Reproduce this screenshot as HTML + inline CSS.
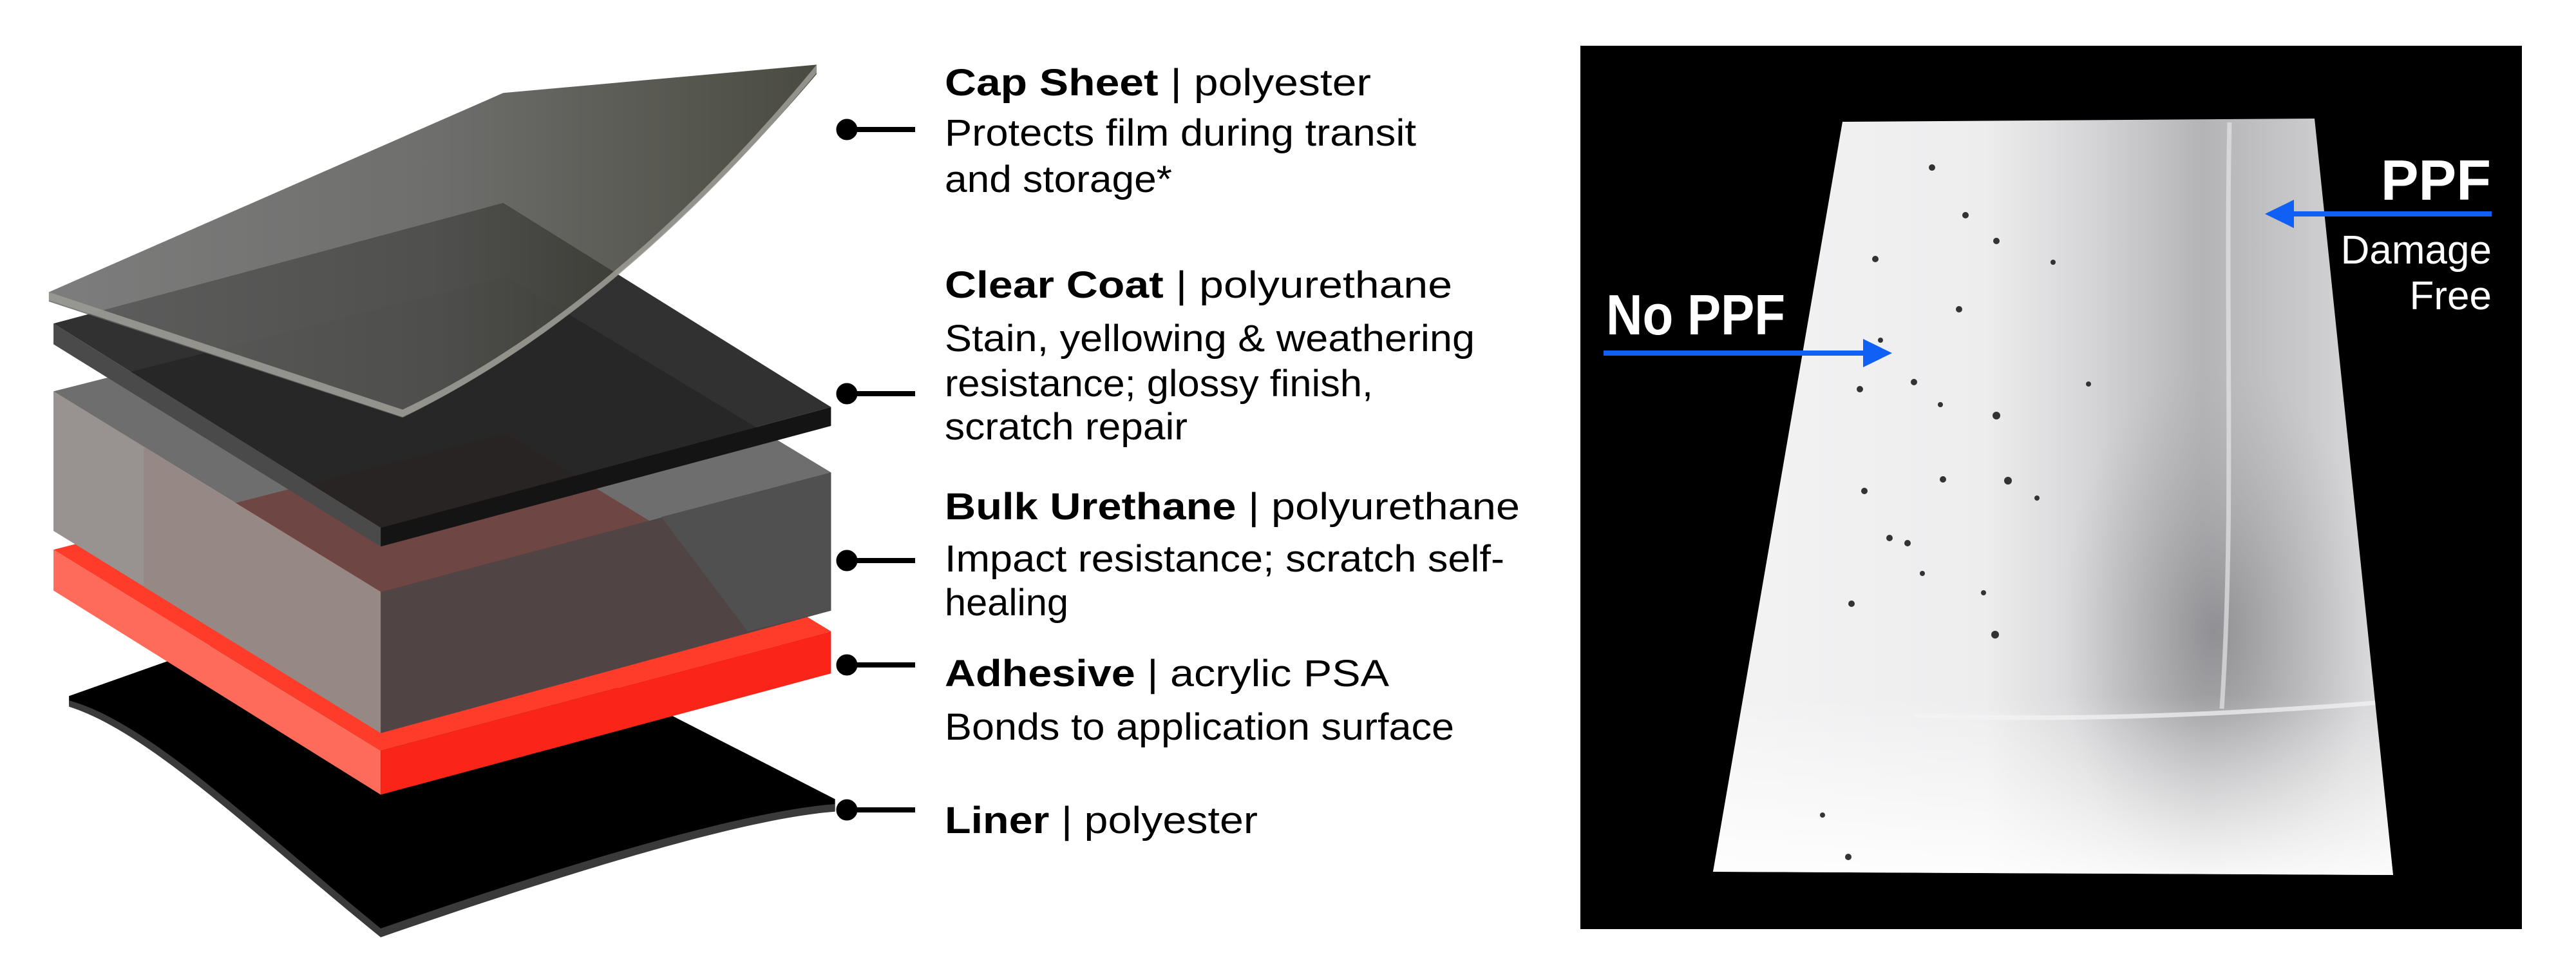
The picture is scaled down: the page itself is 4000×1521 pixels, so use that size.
<!DOCTYPE html>
<html><head><meta charset="utf-8"><style>
html,body{margin:0;padding:0;background:#fff;}
svg{display:block;}
text{font-family:"Liberation Sans",sans-serif;}
</style></head><body>
<svg width="4000" height="1521" viewBox="0 0 4000 1521" xmlns="http://www.w3.org/2000/svg">
<defs>
<linearGradient id="capg" x1="0" y1="0" x2="1" y2="0">
<stop offset="0" stop-color="#666"/><stop offset="0.5" stop-color="#555553"/><stop offset="1" stop-color="#2a2b1e"/>
</linearGradient>
<linearGradient id="sheeth" x1="2660" y1="0" x2="3716" y2="0" gradientUnits="userSpaceOnUse">
<stop offset="0" stop-color="#f3f3f4"/><stop offset="0.4" stop-color="#ededee"/><stop offset="0.55" stop-color="#d6d6d8"/>
<stop offset="0.72" stop-color="#b4b4b7"/><stop offset="0.85" stop-color="#c6c6c8"/><stop offset="1" stop-color="#dedee0"/>
</linearGradient>
<radialGradient id="band" cx="3440" cy="980" r="300" gradientUnits="userSpaceOnUse" gradientTransform="translate(3440 980) scale(0.8 1.4) translate(-3440 -980)">
<stop offset="0" stop-color="#8c8c90" stop-opacity="0.9"/><stop offset="1" stop-color="#b0b0b3" stop-opacity="0"/>
</radialGradient>
<linearGradient id="fadeb" x1="0" y1="1080" x2="0" y2="1358" gradientUnits="userSpaceOnUse">
<stop offset="0" stop-color="#fff" stop-opacity="0"/><stop offset="1" stop-color="#fff" stop-opacity="0.9"/>
</linearGradient>
</defs>

<g transform="scale(0.893,0.975)">
  <path d="M120,1108 L700,920 L1452,1272 L1452,1290 C1300,1300 1000,1380 662,1490 C450,1330 260,1160 120,1122 Z" fill="#000"/>
  <path d="M120,1115 C260,1150 450,1320 662,1478 C1000,1370 1300,1290 1452,1280 L1452,1292 C1300,1302 1000,1385 662,1492 C450,1335 260,1165 120,1125 Z" fill="#3a3a3a"/>
  <polygon points="93,875 880,690 1445,1005 662,1195" fill="#ff3b2a"/>
  <polygon points="93,875 93,940 662,1265 662,1195" fill="#ff6b5a"/>
  <polygon points="662,1195 1445,1005 1445,1072 662,1265" fill="#fa2518"/>
  <polygon points="93,623 880,440 1445,752 662,942" fill="#4a4a4a" fill-opacity="0.8"/>
  <polygon points="93,623 93,845 662,1167 662,942" fill="#968884"/>
  <polygon points="93,623 93,845 250,933 250,712" fill="#999" fill-opacity="0.6"/>
  <polygon points="662,942 1445,752 1445,972 662,1167" fill="#514444"/>
  <polygon points="1150,823 1445,752 1445,972 1300,1005" fill="#505050"/>
  <polygon points="93,515 875,323 1445,648 662,840" fill="#222121" fill-opacity="0.93"/>
  <polygon points="93,515 93,548 662,870 662,840" fill="#4a4a4a"/>
  <polygon points="662,840 1445,648 1445,678 662,870" fill="#141414"/>
  <path d="M85,465 L875,148 L1420,103 L1420,118 C1250,300 1000,530 700,665 L85,480 Z" fill="url(#capg)" fill-opacity="0.85"/>
  <path d="M85,465 L700,652 C1000,522 1250,292 1420,103 L1420,116 C1250,303 1000,533 700,664 L85,478 Z" fill="#9a9a94" fill-opacity="0.9"/>
</g>

<g fill="#000" stroke="#000">
  <circle cx="1315" cy="201" r="16"/><line x1="1315" y1="201" x2="1421" y2="201" stroke-width="8"/>
  <circle cx="1315" cy="611" r="16"/><line x1="1315" y1="611" x2="1421" y2="611" stroke-width="8"/>
  <circle cx="1315" cy="870" r="16"/><line x1="1315" y1="870" x2="1421" y2="870" stroke-width="8"/>
  <circle cx="1315" cy="1032" r="16"/><line x1="1315" y1="1032" x2="1421" y2="1032" stroke-width="8"/>
  <circle cx="1315" cy="1257" r="16"/><line x1="1315" y1="1257" x2="1421" y2="1257" stroke-width="8"/>
</g>

<g font-size="58" fill="#000">
  <text x="1467" y="148" textLength="662" lengthAdjust="spacingAndGlyphs"><tspan font-weight="bold">Cap Sheet</tspan> | polyester</text>
  <text x="1467" y="226" textLength="732" lengthAdjust="spacingAndGlyphs">Protects film during transit</text>
  <text x="1467" y="298" textLength="353" lengthAdjust="spacingAndGlyphs">and storage*</text>
  <text x="1467" y="462" textLength="788" lengthAdjust="spacingAndGlyphs"><tspan font-weight="bold">Clear Coat</tspan> | polyurethane</text>
  <text x="1467" y="545" textLength="823" lengthAdjust="spacingAndGlyphs">Stain, yellowing &amp; weathering</text>
  <text x="1467" y="615" textLength="665" lengthAdjust="spacingAndGlyphs">resistance; glossy finish,</text>
  <text x="1467" y="682" textLength="377" lengthAdjust="spacingAndGlyphs">scratch repair</text>
  <text x="1467" y="806" textLength="893" lengthAdjust="spacingAndGlyphs"><tspan font-weight="bold">Bulk Urethane</tspan> | polyurethane</text>
  <text x="1467" y="887" textLength="869" lengthAdjust="spacingAndGlyphs">Impact resistance; scratch self-</text>
  <text x="1467" y="955" textLength="192" lengthAdjust="spacingAndGlyphs">healing</text>
  <text x="1467" y="1065" textLength="690" lengthAdjust="spacingAndGlyphs"><tspan font-weight="bold">Adhesive</tspan> | acrylic PSA</text>
  <text x="1467" y="1148" textLength="791" lengthAdjust="spacingAndGlyphs">Bonds to application surface</text>
  <text x="1467" y="1293" textLength="486" lengthAdjust="spacingAndGlyphs"><tspan font-weight="bold">Liner</tspan> | polyester</text>
</g>

<rect x="2454" y="71" width="1462" height="1371" fill="#000"/>
<polygon points="2861,189 3594,184 3716,1358 2660,1353" fill="url(#sheeth)"/>
<clipPath id="sc"><polygon points="2861,189 3594,184 3716,1358 2660,1353"/></clipPath>
<g clip-path="url(#sc)">
  <rect x="2600" y="150" width="1200" height="1250" fill="url(#band)"/>
  <rect x="2600" y="1000" width="1200" height="400" fill="url(#fadeb)"/>
  <path d="M3462,190 C3455,500 3470,800 3450,1100" stroke="#e4e4e6" stroke-width="7" fill="none" opacity="0.7"/>
  <path d="M2973,1110 C3200,1120 3450,1110 3700,1090" stroke="#f4f4f5" stroke-width="7" fill="none" opacity="0.7"/>
  <g fill="#333">
    <circle cx="3000" cy="260" r="5"/><circle cx="3052" cy="334" r="5"/><circle cx="3100" cy="374" r="5"/>
    <circle cx="2912" cy="402" r="5"/><circle cx="3042" cy="480" r="5"/><circle cx="2972" cy="593" r="5"/>
    <circle cx="3100" cy="645" r="6"/><circle cx="3118" cy="746" r="6"/><circle cx="2895" cy="762" r="5"/>
    <circle cx="2962" cy="843" r="5"/><circle cx="3098" cy="985" r="6"/><circle cx="2875" cy="937" r="5"/>
    <circle cx="3243" cy="596" r="4"/><circle cx="3017" cy="744" r="5"/><circle cx="3013" cy="628" r="4"/>
    <circle cx="2870" cy="1330" r="5"/><circle cx="2830" cy="1265" r="4"/><circle cx="2934" cy="835" r="5"/>
    <circle cx="2920" cy="528" r="4"/><circle cx="2888" cy="604" r="5"/><circle cx="3188" cy="407" r="4"/>
    <circle cx="3163" cy="773" r="4"/><circle cx="3080" cy="920" r="4"/><circle cx="2985" cy="890" r="4"/>
  </g>
</g>
<g fill="#fff">
  <text x="2494" y="519" font-size="88" font-weight="bold" textLength="278" lengthAdjust="spacingAndGlyphs">No PPF</text>
  <text x="3868" y="310" font-size="88" font-weight="bold" text-anchor="end">PPF</text>
  <text x="3869" y="409" font-size="62" text-anchor="end">Damage</text>
  <text x="3869" y="480" font-size="62" text-anchor="end">Free</text>
</g>
<g fill="#1060f5" stroke="#1060f5">
  <line x1="2490" y1="548" x2="2900" y2="548" stroke-width="8"/>
  <polygon points="2938,548 2893,526 2893,570" stroke="none"/>
  <line x1="3869" y1="332" x2="3555" y2="332" stroke-width="8"/>
  <polygon points="3517,332 3562,310 3562,354" stroke="none"/>
</g>
</svg>
</body></html>
